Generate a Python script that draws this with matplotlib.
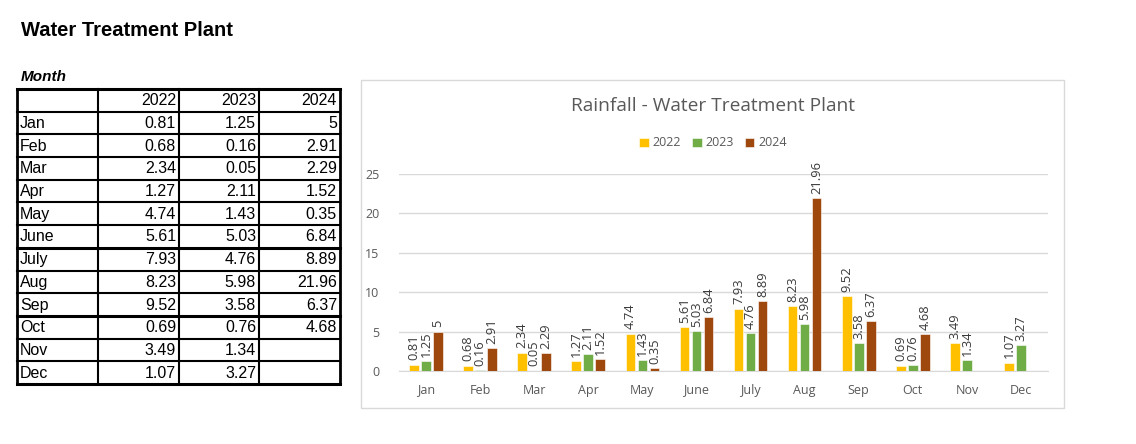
import numpy as np
import matplotlib
matplotlib.use("Agg")
import matplotlib.pyplot as plt
from matplotlib.patches import Rectangle

months = ["Jan", "Feb", "Mar", "Apr", "May", "June", "July", "Aug", "Sep", "Oct", "Nov", "Dec"]
years = ["2022", "2023", "2024"]
rain_2022 = [0.81, 0.68, 2.34, 1.27, 4.74, 5.61, 7.93, 8.23, 9.52, 0.69, 3.49, 1.07]
rain_2023 = [1.25, 0.16, 0.05, 2.11, 1.43, 5.03, 4.76, 5.98, 3.58, 0.76, 1.34, 3.27]
rain_2024 = [5, 2.91, 2.29, 1.52, 0.35, 6.84, 8.89, 21.96, 6.37, 4.68, None, None]
series = [rain_2022, rain_2023, rain_2024]
colors = ["#FFC000", "#70AD47", "#9E480E"]
yticks = [0, 5, 10, 15, 20, 25]

W, H = 1136, 444
fig = plt.figure(figsize=(W / 100, H / 100), dpi=100)
plt.rcParams['font.family'] = ['Open Sans', 'DejaVu Sans']

def fx(px):
    return px / W

def fy(py):
    return 1 - py / H

# Page title
fig.text(fx(21), fy(30), "Water Treatment Plant", fontsize=14.5, fontweight='bold',
         va='center', ha='left', family=['Liberation Sans', 'DejaVu Sans'])
fig.text(fx(21), fy(77), "Month", fontsize=11, fontweight='bold', style='italic',
         va='center', ha='left', family=['Liberation Sans', 'DejaVu Sans'])

# Table
tl, tr, tt, tb = 17, 340, 89, 384
tax = fig.add_axes([fx(tl), fy(tb), fx(tr) - fx(tl), fy(tt) - fy(tb)])
nrows = len(months) + 1
col_edges = [0, 81, 162, 242, 323]
tax.set_xlim(0, 323)
tax.set_ylim(nrows, 0)
tax.axis('off')

def fmt(v):
    if v is None:
        return ""
    return f"{v:g}"

tfont = dict(fontsize=11.5, family=['Liberation Sans', 'DejaVu Sans'], color='black', va='center')
for j, y in enumerate(years):
    tax.text(col_edges[j + 2] - 3, 0.52, y, ha='right', **tfont)
for i, m in enumerate(months):
    r = i + 1.52
    tax.text(3, r, m, ha='left', **tfont)
    for j, s in enumerate(series):
        tax.text(col_edges[j + 2] - 3, r, fmt(s[i]), ha='right', **tfont)

thick_rows = {7, 10}
for r in range(nrows + 1):
    lw = 2.2 if r in thick_rows or r in (0, nrows) else 1.5
    tax.plot([0, 323], [r, r], color='black', lw=lw, clip_on=False, solid_capstyle='projecting')
for c in col_edges:
    lw = 2.0 if c in (0, 323) else 1.5
    tax.plot([c, c], [0, nrows], color='black', lw=lw, clip_on=False, solid_capstyle='projecting')

# Chart box
fig.patches.append(Rectangle((fx(361), fy(408)), fx(1064) - fx(361), fy(80) - fy(408),
                             transform=fig.transFigure, fill=False, edgecolor='#D9D9D9', lw=1.0))
fig.text(fx(713), fy(106), "Rainfall - Water Treatment Plant", fontsize=13.8, color='#595959',
         ha='center', va='center')

ax = fig.add_axes([fx(399), fy(371), fx(1048) - fx(399), fy(174) - fy(371)])
x = np.arange(len(months))
offsets = [-0.222, 0, 0.222]
bw = 0.178
handles = []
for s, c, off, lab in zip(series, colors, offsets, years):
    vals = np.array([np.nan if v is None else v for v in s], dtype=float)
    bars = ax.bar(x + off, vals, width=bw, color=c, edgecolor='white', linewidth=0.4, label=lab, zorder=3)
    handles.append(bars)
    for xi, v in zip(x, s):
        if v is None:
            continue
        ax.annotate(fmt(v), (xi + off, v), xytext=(0, 3), textcoords='offset points',
                    rotation=90, ha='center', va='bottom', fontsize=9.3, color='#3A3A3A',
                    annotation_clip=False)

ax.set_xlim(-0.5, len(months) - 0.5)
ax.set_ylim(0, 25)
ax.set_yticks(yticks)
ax.set_xticks(x)
ax.set_xticklabels(months)
ax.tick_params(axis='both', length=0, labelsize=9, labelcolor='#595959')
ax.tick_params(axis='x', pad=9)
ax.tick_params(axis='y', pad=14)
ax.grid(axis='y', color='#D9D9D9', lw=1.0, zorder=0)
for sp in ['top', 'right', 'left']:
    ax.spines[sp].set_visible(False)
ax.spines['bottom'].set_color('#D9D9D9')
ax.set_axisbelow(True)

fig.legend(handles=handles, labels=years, loc='center', bbox_to_anchor=(fx(713), fy(143)),
           ncol=3, frameon=False, fontsize=9, labelcolor='#595959', handlelength=0.75,
           handleheight=0.75, handletextpad=0.3, columnspacing=0.9)

fig.savefig("out.png", dpi=100, facecolor='white')
